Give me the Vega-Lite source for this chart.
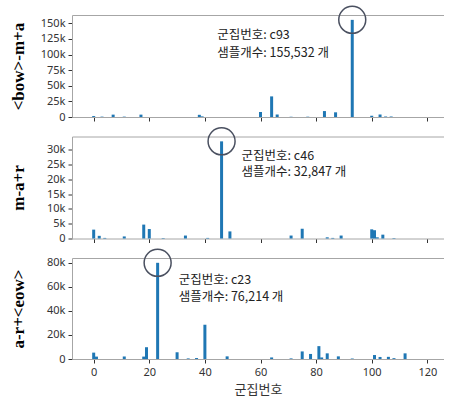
{
  "$schema": "https://vega.github.io/schema/vega-lite/v6.json",
  "padding": {"left": 8, "top": 3, "right": 0, "bottom": 0},
  "spacing": 19.5,
  "bounds": "flush",
  "config": {
    "view": {"stroke": null},
    "font": "Noto Sans CJK KR",
    "axis": {
      "domainColor": "#a6a6a6",
      "tickColor": "#333333",
      "tickSize": 4,
      "labelFont": "Noto Sans",
      "labelFontSize": 11,
      "labelColor": "#333333",
      "labelPadding": 3,
      "grid": false
    },
    "axisY": {
      "titleFont": "Liberation Serif",
      "titleFontWeight": "bold",
      "titleFontSize": 17,
      "titleColor": "#000000",
      "titleX": -54,
      "titleBaseline": "middle"
    },
    "bar": {"color": "#1f77b4"}
  },
  "datasets": {
    "bma": [
      {"cluster": 0, "count": 1500}, {"cluster": 3, "count": 600}, {"cluster": 7, "count": 3800},
      {"cluster": 11, "count": 600}, {"cluster": 17, "count": 3800}, {"cluster": 38, "count": 3500},
      {"cluster": 39, "count": 1000}, {"cluster": 60, "count": 8000}, {"cluster": 64, "count": 33000},
      {"cluster": 66, "count": 4000}, {"cluster": 71, "count": 400}, {"cluster": 77, "count": 500},
      {"cluster": 83, "count": 9500}, {"cluster": 87, "count": 7500}, {"cluster": 93, "count": 155532},
      {"cluster": 100, "count": 2000}, {"cluster": 103, "count": 4000}, {"cluster": 105, "count": 800},
      {"cluster": 107, "count": 800}
    ],
    "mar": [
      {"cluster": 0, "count": 3000}, {"cluster": 2, "count": 900}, {"cluster": 4, "count": 200},
      {"cluster": 11, "count": 700}, {"cluster": 18, "count": 4700}, {"cluster": 20, "count": 3200},
      {"cluster": 25, "count": 150}, {"cluster": 33, "count": 1000}, {"cluster": 41, "count": 200},
      {"cluster": 46, "count": 32847}, {"cluster": 49, "count": 2400}, {"cluster": 71, "count": 1000},
      {"cluster": 75, "count": 3300}, {"cluster": 84, "count": 400}, {"cluster": 86, "count": 200},
      {"cluster": 89, "count": 1000}, {"cluster": 100, "count": 3100}, {"cluster": 101, "count": 2800},
      {"cluster": 102, "count": 400}, {"cluster": 104, "count": 1300}, {"cluster": 108, "count": 150}
    ],
    "are": [
      {"cluster": 0, "count": 5300}, {"cluster": 1, "count": 2000}, {"cluster": 11, "count": 2100},
      {"cluster": 18, "count": 2000}, {"cluster": 19, "count": 9800}, {"cluster": 23, "count": 80000},
      {"cluster": 30, "count": 5600}, {"cluster": 34, "count": 500}, {"cluster": 37, "count": 800},
      {"cluster": 40, "count": 28500}, {"cluster": 48, "count": 2200}, {"cluster": 64, "count": 1300},
      {"cluster": 71, "count": 500}, {"cluster": 75, "count": 6300}, {"cluster": 78, "count": 4200},
      {"cluster": 81, "count": 10700}, {"cluster": 82, "count": 1300}, {"cluster": 84, "count": 4700},
      {"cluster": 88, "count": 2200}, {"cluster": 93, "count": 400}, {"cluster": 101, "count": 3300},
      {"cluster": 103, "count": 1700}, {"cluster": 106, "count": 1800}, {"cluster": 108, "count": 700},
      {"cluster": 112, "count": 4700}
    ],
    "peaks": [
      {"panel": 1, "cluster": 93, "count": 155532, "line1": "군집번호: c93", "line2": "샘플개수: 155,532 개"},
      {"panel": 2, "cluster": 46, "count": 32847, "line1": "군집번호: c46", "line2": "샘플개수: 32,847 개"},
      {"panel": 3, "cluster": 23, "count": 80000, "line1": "군집번호: c23", "line2": "샘플개수: 76,214 개"}
    ]
  },
  "vconcat": [
    {
      "width": 372,
      "height": 102,
      "resolve": {"axis": {"x": "independent"}},
      "encoding": {
        "x": {"field": "cluster", "type": "quantitative", "scale": {"domain": [-6, 124.2], "nice": false, "zero": false},
          "axis": {"orient": "bottom", "values": [0, 20, 40, 60, 80, 100, 120], "labels": false, "title": null}},
        "y": {"field": "count", "type": "quantitative", "scale": {"domain": [0, 163309], "nice": false},
          "axis": {"values": [0, 25000, 50000, 75000, 100000, 125000, 150000], "labelOverlap": false, "labelExpr": "datum.value == 0 ? '0' : (datum.value / 1000) + 'k'", "title": "<bow>-m+a"}}
      },
      "layer": [
        {"data": {"name": "bma"}, "mark": {"type": "bar", "width": 3}},
        {
          "data": {"name": "peaks"},
          "transform": [{"filter": "datum.panel == 1"}],
          "mark": {"type": "point", "shape": "circle", "filled": false, "size": 729, "stroke": "#4a5060", "strokeWidth": 1.5, "opacity": 1},
          "encoding": {
            "x": {"field": "cluster", "type": "quantitative", "axis": {"orient": "top", "labels": false, "ticks": false, "title": null, "values": []}}
          }
        },
        {
          "data": {"name": "peaks"},
          "transform": [{"filter": "datum.panel == 1"}],
          "mark": {"type": "text", "align": "left", "baseline": "middle", "dx": -135, "dy": 15, "fontSize": 12.5, "color": "#222222"},
          "encoding": {"x": {"field": "cluster", "type": "quantitative", "axis": null}, "text": {"field": "line1"}}
        },
        {
          "data": {"name": "peaks"},
          "transform": [{"filter": "datum.panel == 1"}],
          "mark": {"type": "text", "align": "left", "baseline": "middle", "dx": -135, "dy": 33.5, "fontSize": 12.5, "color": "#222222"},
          "encoding": {"x": {"field": "cluster", "type": "quantitative", "axis": null}, "text": {"field": "line2"}}
        }
      ]
    },
    {
      "width": 372,
      "height": 102,
      "resolve": {"axis": {"x": "independent"}},
      "encoding": {
        "x": {"field": "cluster", "type": "quantitative", "scale": {"domain": [-6, 124.2], "nice": false, "zero": false},
          "axis": {"orient": "bottom", "values": [0, 20, 40, 60, 80, 100, 120], "labels": false, "title": null}},
        "y": {"field": "count", "type": "quantitative", "scale": {"domain": [0, 34489], "nice": false},
          "axis": {"values": [0, 5000, 10000, 15000, 20000, 25000, 30000], "labelOverlap": false, "labelExpr": "datum.value == 0 ? '0' : (datum.value / 1000) + 'k'", "title": "m-a+r"}}
      },
      "layer": [
        {"data": {"name": "mar"}, "mark": {"type": "bar", "width": 3}},
        {
          "data": {"name": "peaks"},
          "transform": [{"filter": "datum.panel == 2"}],
          "mark": {"type": "point", "shape": "circle", "filled": false, "size": 729, "stroke": "#4a5060", "strokeWidth": 1.5, "opacity": 1},
          "encoding": {
            "x": {"field": "cluster", "type": "quantitative", "axis": {"orient": "top", "labels": false, "ticks": false, "title": null, "values": []}}
          }
        },
        {
          "data": {"name": "peaks"},
          "transform": [{"filter": "datum.panel == 2"}],
          "mark": {"type": "text", "align": "left", "baseline": "middle", "dx": 20, "dy": 14.5, "fontSize": 12.5, "color": "#222222"},
          "encoding": {"x": {"field": "cluster", "type": "quantitative", "axis": null}, "text": {"field": "line1"}}
        },
        {
          "data": {"name": "peaks"},
          "transform": [{"filter": "datum.panel == 2"}],
          "mark": {"type": "text", "align": "left", "baseline": "middle", "dx": 20, "dy": 30.5, "fontSize": 12.5, "color": "#222222"},
          "encoding": {"x": {"field": "cluster", "type": "quantitative", "axis": null}, "text": {"field": "line2"}}
        }
      ]
    },
    {
      "width": 372,
      "height": 101,
      "resolve": {"axis": {"x": "independent"}},
      "encoding": {
        "x": {"field": "cluster", "type": "quantitative", "scale": {"domain": [-6, 124.2], "nice": false, "zero": false},
          "axis": {"orient": "bottom", "values": [0, 20, 40, 60, 80, 100, 120], "title": "군집번호",
            "titleFont": "Noto Sans CJK KR", "titleFontSize": 13, "titleFontWeight": "normal", "titleColor": "#333333", "titlePadding": 6}},
        "y": {"field": "count", "type": "quantitative", "scale": {"domain": [0, 84000], "nice": false},
          "axis": {"values": [0, 20000, 40000, 60000, 80000], "labelOverlap": false, "labelExpr": "datum.value == 0 ? '0' : (datum.value / 1000) + 'k'", "title": "a-r+<eow>"}}
      },
      "layer": [
        {"data": {"name": "are"}, "mark": {"type": "bar", "width": 3}},
        {
          "data": {"name": "peaks"},
          "transform": [{"filter": "datum.panel == 3"}],
          "mark": {"type": "point", "shape": "circle", "filled": false, "size": 729, "stroke": "#4a5060", "strokeWidth": 1.5, "opacity": 1},
          "encoding": {
            "x": {"field": "cluster", "type": "quantitative", "axis": {"orient": "top", "labels": false, "ticks": false, "title": null, "values": []}}
          }
        },
        {
          "data": {"name": "peaks"},
          "transform": [{"filter": "datum.panel == 3"}],
          "mark": {"type": "text", "align": "left", "baseline": "middle", "dx": 21, "dy": 17, "fontSize": 12.5, "color": "#222222"},
          "encoding": {"x": {"field": "cluster", "type": "quantitative", "axis": null}, "text": {"field": "line1"}}
        },
        {
          "data": {"name": "peaks"},
          "transform": [{"filter": "datum.panel == 3"}],
          "mark": {"type": "text", "align": "left", "baseline": "middle", "dx": 21, "dy": 34, "fontSize": 12.5, "color": "#222222"},
          "encoding": {"x": {"field": "cluster", "type": "quantitative", "axis": null}, "text": {"field": "line2"}}
        }
      ]
    }
  ]
}
